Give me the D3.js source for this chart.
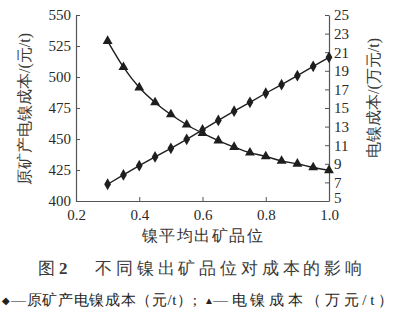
<!DOCTYPE html>
<html>
<head>
<meta charset="utf-8">
<script src="https://cdn.jsdelivr.net/npm/d3@7"></script>
<style>
  body { margin: 0; background: #fff; }
  svg { display: block; }
</style>
</head>
<body>
<svg id="chart" width="406" height="313"></svg>
<script>
// grade values
var grades = [0.3, 0.35, 0.4, 0.45, 0.5, 0.55, 0.6, 0.65, 0.7, 0.75, 0.8, 0.85, 0.9, 0.95, 1.0]
// 原矿产电镍成本 (元/t), left axis
var oreCost = [413.5, 421, 428.5, 435.5, 442.5, 449.7, 457.3, 465, 472.4, 479.6, 486.9, 493.8, 501.1, 508.6, 515.9]
// 电镍成本 (万元/t), right axis
var nickelCost = [22.2, 19.4, 17.2, 15.6, 14.3, 13.2, 12.3, 11.5, 10.8, 10.2, 9.8, 9.3, 9.0, 8.6, 8.3]

var xTicks = [0.2, 0.4, 0.6, 0.8, 1.0]
var leftTicks = [400, 425, 450, 475, 500, 525, 550]
var rightTicks = [5, 7, 9, 11, 13, 15, 17, 19, 21, 23, 25]

var dimensions = {
    width: 406,
    height: 313,
    margin: { top: 15, bottom: 112, left: 76, right: 77 }
}
var ink = "#1e1e1e"
var serif = "Liberation Serif, Times New Roman, serif"

var svg = d3.select("#chart")

var xScale = d3.scaleLinear()
        .domain([0.2, 1.0])
        .range([dimensions.margin.left, dimensions.width - dimensions.margin.right])
var yLeft = d3.scaleLinear()
        .domain([400, 550])
        .range([dimensions.height - dimensions.margin.bottom, dimensions.margin.top])
var yRight = d3.scaleLinear()
        .domain([5, 25])
        .range([dimensions.height - dimensions.margin.bottom, dimensions.margin.top])

var bottomY = dimensions.height - dimensions.margin.bottom
var rightX = dimensions.width - dimensions.margin.right

// axes, ticks pointing inward
var xAxis = svg.append("g")
        .attr("transform", `translate(0,${bottomY})`)
        .call(d3.axisBottom(xScale).tickValues(xTicks).tickFormat(d3.format(".1f")).tickSizeInner(-4).tickSizeOuter(0).tickPadding(8))
var leftAxis = svg.append("g")
        .attr("transform", `translate(${dimensions.margin.left},0)`)
        .call(d3.axisLeft(yLeft).tickValues(leftTicks).tickSizeInner(-4).tickSizeOuter(0).tickPadding(5))
var rightAxis = svg.append("g")
        .attr("transform", `translate(${rightX},0)`)
        .call(d3.axisRight(yRight).tickValues(rightTicks).tickSizeInner(-4).tickSizeOuter(0).tickPadding(5))

// the bottom label of the right axis sits just above the x labels
rightAxis.selectAll(".tick text").filter(d => d == 5).attr("dy", "0.1em")

svg.selectAll(".domain").attr("stroke", "#555").attr("stroke-width", 1.2)
svg.selectAll(".tick line").attr("stroke", "#555")
svg.selectAll("g").attr("font-family", serif).attr("font-size", 15)
svg.selectAll(".tick text")
        .attr("fill", "#2a2a2a")
        .style("font-family", serif)
        .style("font-size", "15px")

// lines
var oreLine = d3.line()
        .x((d, i) => xScale(grades[i]))
        .y(d => yLeft(d))
var nickelLine = d3.line()
        .x((d, i) => xScale(grades[i]))
        .y(d => yRight(d))
        .curve(d3.curveMonotoneX)

svg.append("path")
        .attr("d", oreLine(oreCost))
        .attr("fill", "none")
        .attr("stroke", ink)
        .attr("stroke-width", 1.4)
svg.append("path")
        .attr("d", nickelLine(nickelCost))
        .attr("fill", "none")
        .attr("stroke", ink)
        .attr("stroke-width", 1.4)

// markers
svg.append("g")
        .selectAll("path")
        .data(oreCost)
        .enter()
        .append("path")
        .attr("d", d3.symbol().type(d3.symbolDiamond).size(40))
        .attr("transform", (d, i) => `translate(${xScale(grades[i])},${yLeft(d)})`)
        .attr("fill", ink)
svg.append("g")
        .selectAll("path")
        .data(nickelCost)
        .enter()
        .append("path")
        .attr("d", d3.symbol().type(d3.symbolTriangle).size(42))
        .attr("transform", (d, i) => `translate(${xScale(grades[i])},${yRight(d)})`)
        .attr("fill", ink)

// axis titles
svg.append("text")
        .attr("transform", `translate(24,${(dimensions.margin.top + bottomY) / 2 + 1}) rotate(-90)`)
        .attr("text-anchor", "middle")
        .attr("dominant-baseline", "central")
        .attr("fill", "#3a3a3a")
        .style("font-family", serif)
        .style("font-size", "16px")
        .text("原矿产电镍成本/(元/t)")

svg.append("text")
        .attr("transform", `translate(373,98) rotate(-90)`)
        .attr("text-anchor", "middle")
        .attr("dominant-baseline", "central")
        .attr("fill", "#3a3a3a")
        .style("font-family", serif)
        .style("font-size", "16px")
        .text("电镍成本/(万元/t)")

svg.append("text")
        .attr("x", 203)
        .attr("y", 241)
        .attr("text-anchor", "middle")
        .attr("fill", "#333")
        .style("font-family", serif)
        .style("font-size", "16px")
        .style("letter-spacing", "1.5px")
        .text("镍平均出矿品位")

// caption
var caption = svg.append("text")
        .attr("x", 38)
        .attr("y", 274)
        .attr("fill", "#3a3a3a")
        .style("font-family", serif)
        .style("font-size", "17px")
caption.append("tspan").text("图")
caption.append("tspan")
        .attr("dx", 4)
        .style("font-weight", "bold")
        .text("2")
caption.append("tspan")
        .attr("x", 95)
        .attr("textLength", 267)
        .attr("lengthAdjust", "spacing")
        .text("不同镍出矿品位对成本的影响")

// legend line
var legend = svg.append("text")
        .attr("y", 305)
        .attr("fill", "#222")
        .style("font-family", serif)
        .style("font-size", "15px")
legend.append("tspan").attr("x", 2).style("font-size", "10px").attr("dy", -1).text("◆")
legend.append("tspan").attr("x", 11).attr("dy", 1)
        .attr("textLength", 186).attr("lengthAdjust", "spacing")
        .text("—原矿产电镍成本（元/t）;")
legend.append("tspan").attr("x", 204).style("font-size", "10px").attr("dy", -1).text("▲")
legend.append("tspan").attr("x", 213).attr("dy", 1)
        .attr("textLength", 180).attr("lengthAdjust", "spacing")
        .text("—电镍成本（万元/t）")
</script>
</body>
</html>
